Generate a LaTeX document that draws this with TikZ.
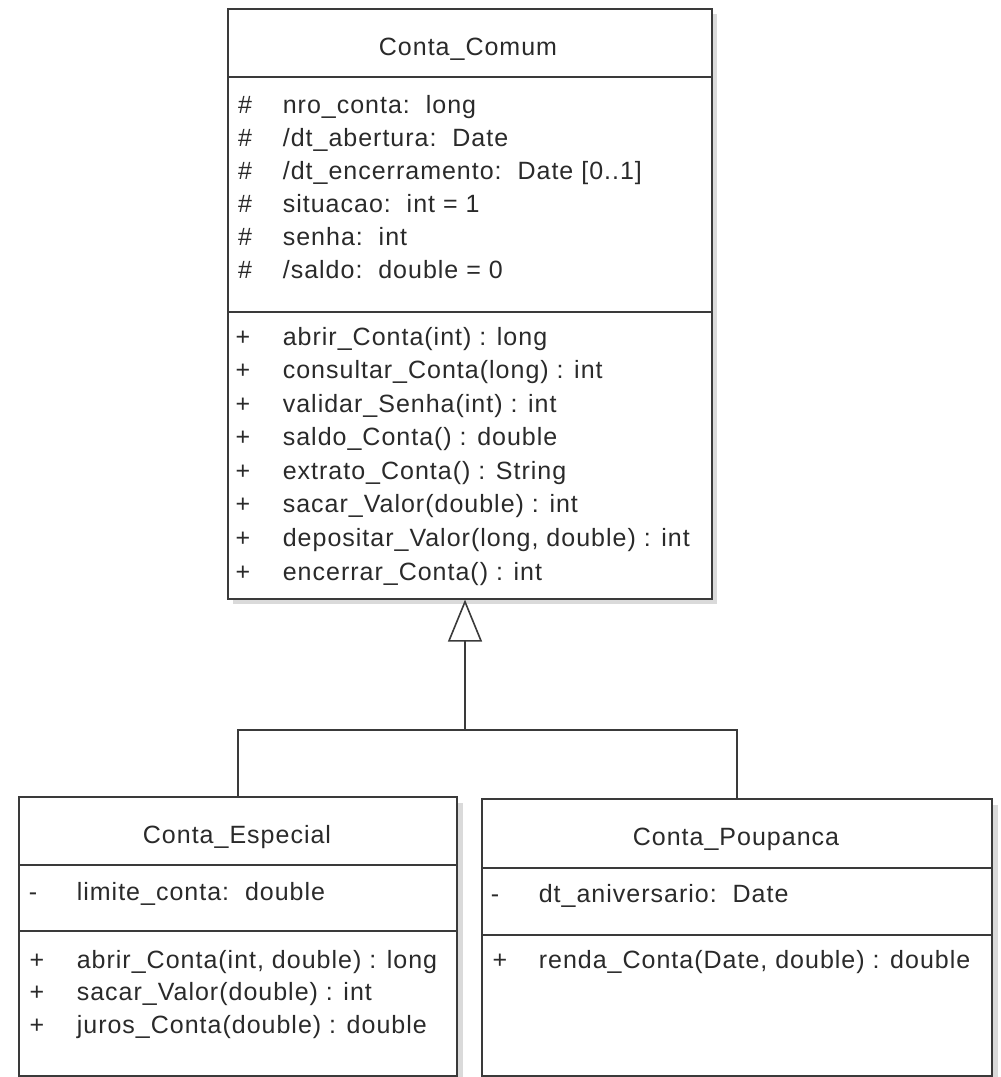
\documentclass[tikz,border=0pt]{standalone}
\usepackage{fontspec}
\setmainfont[LetterSpace=4]{Liberation Sans}
\usetikzlibrary{arrows.meta, positioning}
\definecolor{cline}{HTML}{3A3A3A}
\definecolor{ctext}{HTML}{2A2A2A}
\definecolor{cshadow}{HTML}{DADADA}
\tikzset{
  every picture/.style={line width=1.6pt},
  classbox/.style={draw=cline, fill=white, rectangle, inner sep=0pt, anchor=north west},
  shadowbox/.style={fill=cshadow, rectangle, inner sep=0pt, anchor=north west},
  cname/.style={font=\fontsize{25}{30}\selectfont, text=ctext, anchor=base, inner sep=0pt},
  member/.style={font=\fontsize{25}{30}\selectfont, text=ctext, anchor=base west, inner sep=0pt},
  vis/.style={font=\fontsize{25}{30}\selectfont, text=ctext, anchor=base, inner sep=0pt},
  sep/.style={draw=cline, line width=1.2pt},
  inherit/.style={draw=cline, -{Triangle[open, length=42pt, width=34pt]}},
}

\begin{document}
\begin{tikzpicture}[x=1pt, y=-1pt]
  \useasboundingbox (0,0) rectangle (1001,1077);
  % superclass
  \node[shadowbox, minimum width=484pt, minimum height=590pt] (comumsh) at (232,13) {};
  \node[classbox, minimum width=484pt, minimum height=590pt] (comum) at (227,8) {};
  \draw[sep] (227,77) -- (711,77);
  \draw[sep] (227,312) -- (711,312);
  \node[cname] (comumname) at (468,55) {Conta\_Comum};
  \foreach \y/\txt [count=\i] in {113/{nro\_conta:\ \ long}, 146/{/dt\_abertura:\ \ Date},
      179/{/dt\_encerramento:\ \ Date [0..1]}, 212/{situacao:\ \ int = 1},
      245/{senha:\ \ int}, 278/{/saldo:\ \ double = 0}} {
    \node[vis] (ca\i) at (245,\y) {\#};
    \node[member] (cat\i) at (282,\y) {\txt};
  }
  \foreach \y/\txt [count=\i] in {345/{abrir\_Conta(int) : long}, 378.5/{consultar\_Conta(long) : int},
      412/{validar\_Senha(int) : int}, 445.5/{saldo\_Conta() : double},
      479/{extrato\_Conta() : String}, 512.5/{sacar\_Valor(double) : int},
      546/{depositar\_Valor(long, double) : int}, 580/{encerrar\_Conta() : int}} {
    \node[vis] (cm\i) at (243,\y) {+};
    \node[member] (cmt\i) at (282,\y) {\txt};
  }
  % subclass: especial
  \node[shadowbox, minimum width=438pt, minimum height=279pt] (espsh) at (24,802) {};
  \node[classbox, minimum width=438pt, minimum height=279pt] (esp) at (18,796) {};
  \draw[sep] (18,865) -- (456,865);
  \draw[sep] (18,931) -- (456,931);
  \node[cname] (espname) at (237,843) {Conta\_Especial};
  \node[vis] (ea1) at (33,900) {-};
  \node[member] (eat1) at (76,900) {limite\_conta:\ \ double};
  \foreach \y/\txt [count=\i] in {968/{abrir\_Conta(int, double) : long},
      1000/{sacar\_Valor(double) : int}, 1033/{juros\_Conta(double) : double}} {
    \node[vis] (em\i) at (37,\y) {+};
    \node[member] (emt\i) at (76,\y) {\txt};
  }
  % subclass: poupanca
  \node[shadowbox, minimum width=510pt, minimum height=277pt] (poupsh) at (487,804) {};
  \node[classbox, minimum width=510pt, minimum height=277pt] (poup) at (481,798) {};
  \draw[sep] (481,868) -- (991,868);
  \draw[sep] (481,935) -- (991,935);
  \node[cname] (poupname) at (736,845) {Conta\_Poupanca};
  \node[vis] (pa1) at (495,902) {-};
  \node[member] (pat1) at (538,902) {dt\_aniversario:\ \ Date};
  \node[vis] (pm1) at (500,968) {+};
  \node[member] (pmt1) at (538,968) {renda\_Conta(Date, double) : double};
  % generalisation
  \coordinate (join) at (465,730);
  \draw[cline] (poup.north) |- (join);
  \draw[inherit] (esp.north) |- (join) -- (join |- comum.south);
\end{tikzpicture}
\end{document}
